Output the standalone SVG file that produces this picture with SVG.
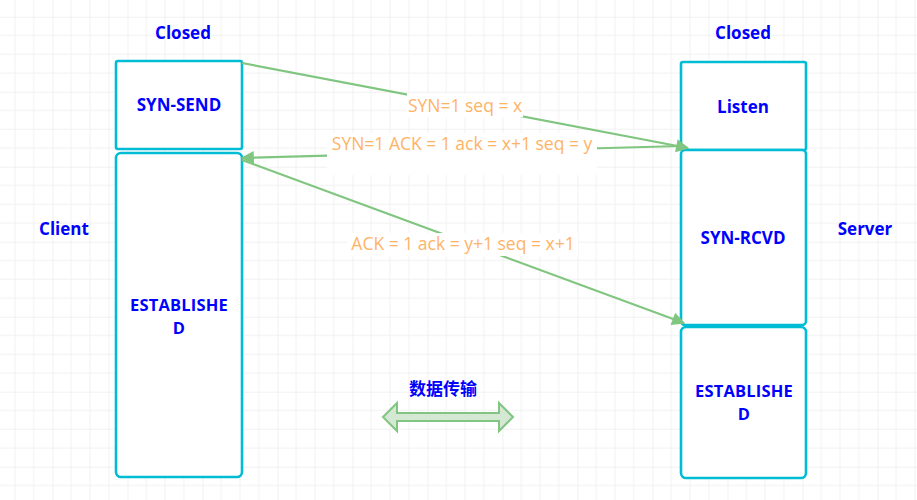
<svg xmlns="http://www.w3.org/2000/svg" width="917" height="500" viewBox="0 0 917 500">
<defs>
<pattern id="grid" patternUnits="userSpaceOnUse" x="-22.5" y="16.7" width="75" height="75">
<path d="M18.75 0V75M37.5 0V75M56.25 0V75M0 18.75H75M0 37.5H75M0 56.25H75" stroke="#f1f1f1" stroke-width="1" fill="none"/>
<path d="M0 0V75M0 0H75" stroke="#e4e4e4" stroke-width="1" fill="none"/>
</pattern>
<marker id="ah" viewBox="0 0 10 10" refX="9" refY="5" markerWidth="7.5" markerHeight="6" markerUnits="strokeWidth" orient="auto">
<path d="M0 0L10 5L0 10Z" fill="#80c680"/>
</marker>
<style>
.box{fill:#fff;stroke:#00bcd4;stroke-width:2.6}
.t{font-family:"Open Sans","Noto Sans","Noto Sans CJK SC",sans-serif;font-weight:bold;font-size:17px;fill:#0000ff;text-anchor:middle}
.t2{font-size:16.5px;letter-spacing:0.2px}
.lbl{font-family:"Open Sans","Noto Sans",sans-serif;font-size:17.5px;fill:#ffb366;text-anchor:middle}
.edge{stroke:#80c680;stroke-width:2.2;fill:none;marker-end:url(#ah)}
.bg{fill:#fff}
</style>
</defs>
<rect width="917" height="500" fill="#fff"/>
<rect width="917" height="500" fill="url(#grid)"/>

<text class="t" x="183" y="39">Closed</text>
<text class="t" x="743" y="39">Closed</text>
<text class="t" x="64" y="235">Client</text>
<text class="t" x="865" y="235">Server</text>

<g id="syn-send">
<rect class="box" x="116" y="61" width="126" height="88" rx="2"/>
<text class="t" x="179" y="111">SYN-SEND</text>
</g>
<g id="client-established">
<rect class="box" x="116" y="153" width="126" height="324" rx="5"/>
<text class="t t2" x="179" y="311">ESTABLISHE</text>
<text class="t t2" x="179" y="334">D</text>
</g>
<g id="listen">
<rect class="box" x="681" y="62" width="125" height="88" rx="2"/>
<text class="t" x="743" y="113">Listen</text>
</g>
<g id="syn-rcvd">
<rect class="box" x="681" y="150" width="125" height="175" rx="4"/>
<text class="t" x="743" y="244">SYN-RCVD</text>
</g>
<g id="server-established">
<rect class="box" x="681" y="327" width="125" height="151" rx="5"/>
<text class="t t2" x="744" y="397">ESTABLISHE</text>
<text class="t t2" x="744" y="420">D</text>
</g>

<g id="connectors">
<path class="edge" d="M242 63L688 148"/>
<path class="edge" d="M681 146L242 158"/>
<path class="edge" d="M242 160L684 323"/>
<rect class="bg" x="407" y="93" width="116" height="24"/>
<text class="lbl" x="465" y="112">SYN=1 seq = x</text>
<rect class="bg" x="327" y="133" width="270" height="42"/>
<text class="lbl" x="462" y="150">SYN=1 ACK = 1 ack = x+1 seq = y</text>
<rect class="bg" x="347" y="233" width="231" height="23"/>
<text class="lbl" x="463" y="250">ACK = 1 ack = y+1 seq = x+1</text>
</g>

<g id="data-transfer">
<text class="t" x="443" y="395">数据传输</text>
<path d="M383 417L397 403V413H499V403L513 417L499 431V421H397V431Z" fill="#d5e8d4" stroke="#82c582" stroke-width="2" stroke-linejoin="miter"/>
</g>
</svg>
